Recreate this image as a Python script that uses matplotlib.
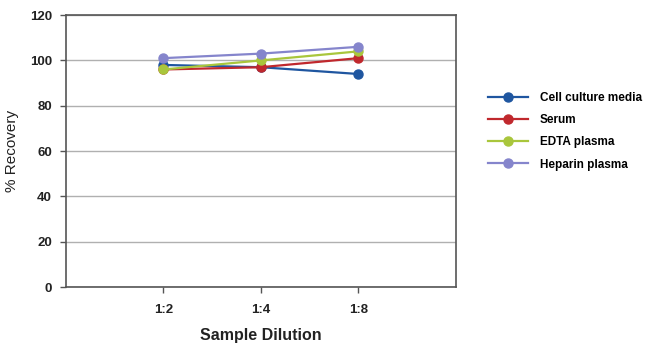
import matplotlib.pyplot as plt
import numpy as np

plt.rcParams['font.family'] = ['Liberation Sans', 'DejaVu Sans']

dilutions = ['1:2', '1:4', '1:8']
cell_culture = [98, 97, 94]
serum = [96, 97, 101]
edta = [96, 100, 104]
heparin = [101, 103, 106]

series = [
    ('Cell culture media', cell_culture, '#1f56a0'),
    ('Serum', serum, '#c0282d'),
    ('EDTA plasma', edta, '#a9c63c'),
    ('Heparin plasma', heparin, '#8585cc'),
]

fig = plt.figure(figsize=(6.5, 3.55), dpi=100)
ax = fig.add_axes([0.1015, 0.1915, 0.6, 0.766])

x = np.arange(1, len(dilutions) + 1)
for name, vals, col in series:
    ax.plot(x, vals, color=col, marker='o', markersize=6.5, linewidth=1.6, label=name)

ax.set_xlim(0, 4)
ax.set_ylim(0, 120)
ax.set_yticks(np.arange(0, 121, 20))
ax.set_xticks(x)
ax.set_xticklabels(dilutions)
ax.yaxis.grid(True, color='#b0b0b0', linewidth=1)
ax.set_axisbelow(True)
for s in ax.spines.values():
    s.set_color('#555555')
    s.set_linewidth(1.2)
ax.tick_params(axis='both', colors='#555555', labelcolor='#222222', labelsize=9.5, length=4, width=1)
for lab in ax.get_xticklabels() + ax.get_yticklabels():
    lab.set_fontweight('bold')
ax.tick_params(axis='x', pad=8)
ax.tick_params(axis='y', pad=6)

ax.set_ylabel('% Recovery', fontsize=11, color='#222222', labelpad=8)
ax.set_xlabel('Sample Dilution', fontsize=11.5, fontweight='bold', color='#222222', labelpad=9)

leg = ax.legend(loc='center left', bbox_to_anchor=(1.055, 0.572), frameon=False,
                prop={'weight': 'bold', 'size': 8.5}, handlelength=3.4,
                handletextpad=1.0, labelspacing=0.85)

fig.savefig('out.png', dpi=100)
